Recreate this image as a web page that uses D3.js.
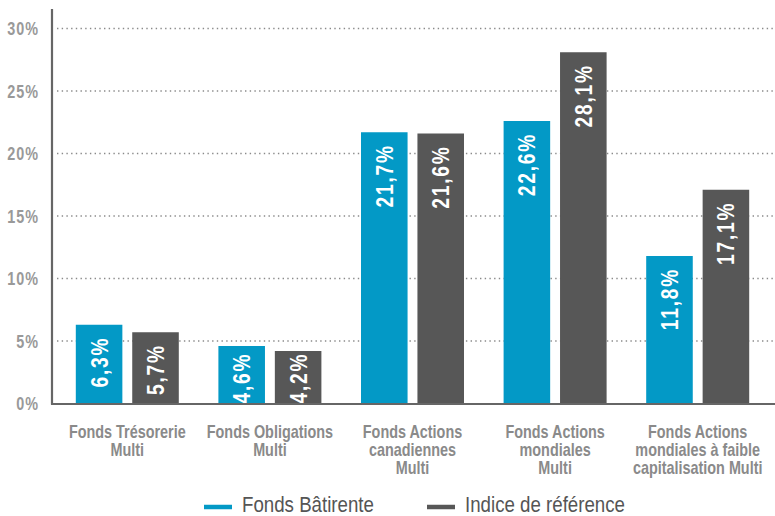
<!DOCTYPE html>
<html>
<head>
<meta charset="utf-8">
<script src="https://cdn.jsdelivr.net/npm/d3@7"></script>
<style>
  body { margin: 0; background: #fff; }
  svg { display: block; font-family: "Liberation Sans", Arial, sans-serif; }
</style>
</head>
<body>
<div id="chart"></div>
<script>
// data
const categories = [
    ["Fonds Trésorerie", "Multi"],
    ["Fonds Obligations", "Multi"],
    ["Fonds Actions", "canadiennes", "Multi"],
    ["Fonds Actions", "mondiales", "Multi"],
    ["Fonds Actions", "mondiales à faible", "capitalisation Multi"]
]
const seriesNames = ["Fonds Bâtirente", "Indice de référence"]
const fondsValues = [6.3, 4.6, 21.7, 22.6, 11.8]
const indiceValues = [5.7, 4.2, 21.6, 28.1, 17.1]
const yTicks = [0, 5, 10, 15, 20, 25, 30]
const colors = ["#0399c6", "#575757"]

const width = 775
const height = 516
const narrow = 0.8   // the original uses a condensed face

const svg = d3.select("#chart").append("svg")
    .attr("width", width)
    .attr("height", height)

const x0 = d3.scaleBand()
    .domain(d3.range(categories.length))
    .range([56, 769])
    .padding(0)

const mid = x0.bandwidth() / 2
const x1 = d3.scaleBand()
    .domain([0, 1])
    .range([mid - 51.5, mid + 51.5])
    .paddingInner(0.175)

const y = d3.scaleLinear()
    .domain([0, 30])
    .range([403.5, 28.5])

const fmt = v => v.toFixed(1).replace(".", ",") + "%"

// gridlines
svg.append("g")
    .selectAll("line")
    .data(yTicks.filter(d => d > 0))
    .join("line")
        .attr("x1", 57)
        .attr("x2", width)
        .attr("y1", d => y(d))
        .attr("y2", d => y(d))
        .attr("stroke", "#8a8a8a")
        .attr("stroke-width", 1.4)
        .attr("stroke-dasharray", "1.4 3.3")

// y axis labels
svg.append("g")
    .selectAll("g")
    .data(yTicks)
    .join("g")
        .attr("transform", d => `translate(39,${y(d) + 6.5}) scale(${narrow},1)`)
    .append("text")
        .attr("text-anchor", "end")
        .attr("font-size", 18)
        .attr("font-weight", "bold")
        .attr("fill", "#999")
        .attr("letter-spacing", 1.2)
        .text(d => d + "%")

// bars
const rows = fondsValues.map((v, i) => [v, indiceValues[i]])
const groups = svg.append("g")
    .selectAll("g")
    .data(rows)
    .join("g")
        .attr("transform", (d, i) => `translate(${x0(i)},0)`)

groups.selectAll("rect")
    .data(d => d)
    .join("rect")
        .attr("x", (d, j) => x1(j))
        .attr("y", d => y(d))
        .attr("width", x1.bandwidth())
        .attr("height", d => y(0) - y(d))
        .attr("fill", (d, j) => colors[j])

const labels = groups.selectAll("g.lab")
    .data(d => d)
    .join("g")
        .attr("class", "lab")
labels.append("text")
    .attr("font-size", 24)
    .attr("font-weight", "bold")
    .attr("fill", "#fff")
    .attr("letter-spacing", 2.2)
    .attr("text-anchor", "end")
    .text(d => fmt(d))
labels.attr("transform", function(d, j) {
    const len = this.getBBox().width * narrow
    const top = Math.min(y(d) + 12, y(0) - len)
    return `translate(${x1(j) + x1.bandwidth() / 2 + 8.5},${top}) rotate(-90) scale(${narrow},1)`
})

// axes lines
svg.append("line")
    .attr("x1", 52).attr("x2", 52)
    .attr("y1", 9).attr("y2", y(0) + 1)
    .attr("stroke", "#666").attr("stroke-width", 2.2)
svg.append("line")
    .attr("x1", 51).attr("x2", width)
    .attr("y1", y(0) + 0.5).attr("y2", y(0) + 0.5)
    .attr("stroke", "#666").attr("stroke-width", 2.2)

// category labels
svg.append("g")
    .selectAll("g")
    .data(categories)
    .join("g")
        .attr("transform", (d, i) => `translate(${x0(i) + mid},438) scale(${narrow},1)`)
    .append("text")
        .attr("text-anchor", "middle")
        .attr("font-size", 18)
        .attr("font-weight", "bold")
        .attr("fill", "#8a8a8a")
        .selectAll("tspan")
        .data(d => d)
        .join("tspan")
            .attr("x", 0)
            .attr("dy", (d, k) => k === 0 ? 0 : 18)
            .text(d => d)

// legend
const legendX = [204, 427]
const legend = svg.append("g")
    .selectAll("g")
    .data(seriesNames)
    .join("g")
        .attr("transform", (d, i) => `translate(${legendX[i]},507)`)
legend.append("line")
    .attr("x1", 0).attr("x2", 28)
    .attr("stroke", (d, i) => colors[i])
    .attr("stroke-width", 4.5)
legend.append("g")
    .attr("transform", "translate(38,5) scale(0.85,1)")
    .append("text")
        .attr("font-size", 22)
        .attr("fill", "#555")
        .text(d => d)
</script>
</body>
</html>
